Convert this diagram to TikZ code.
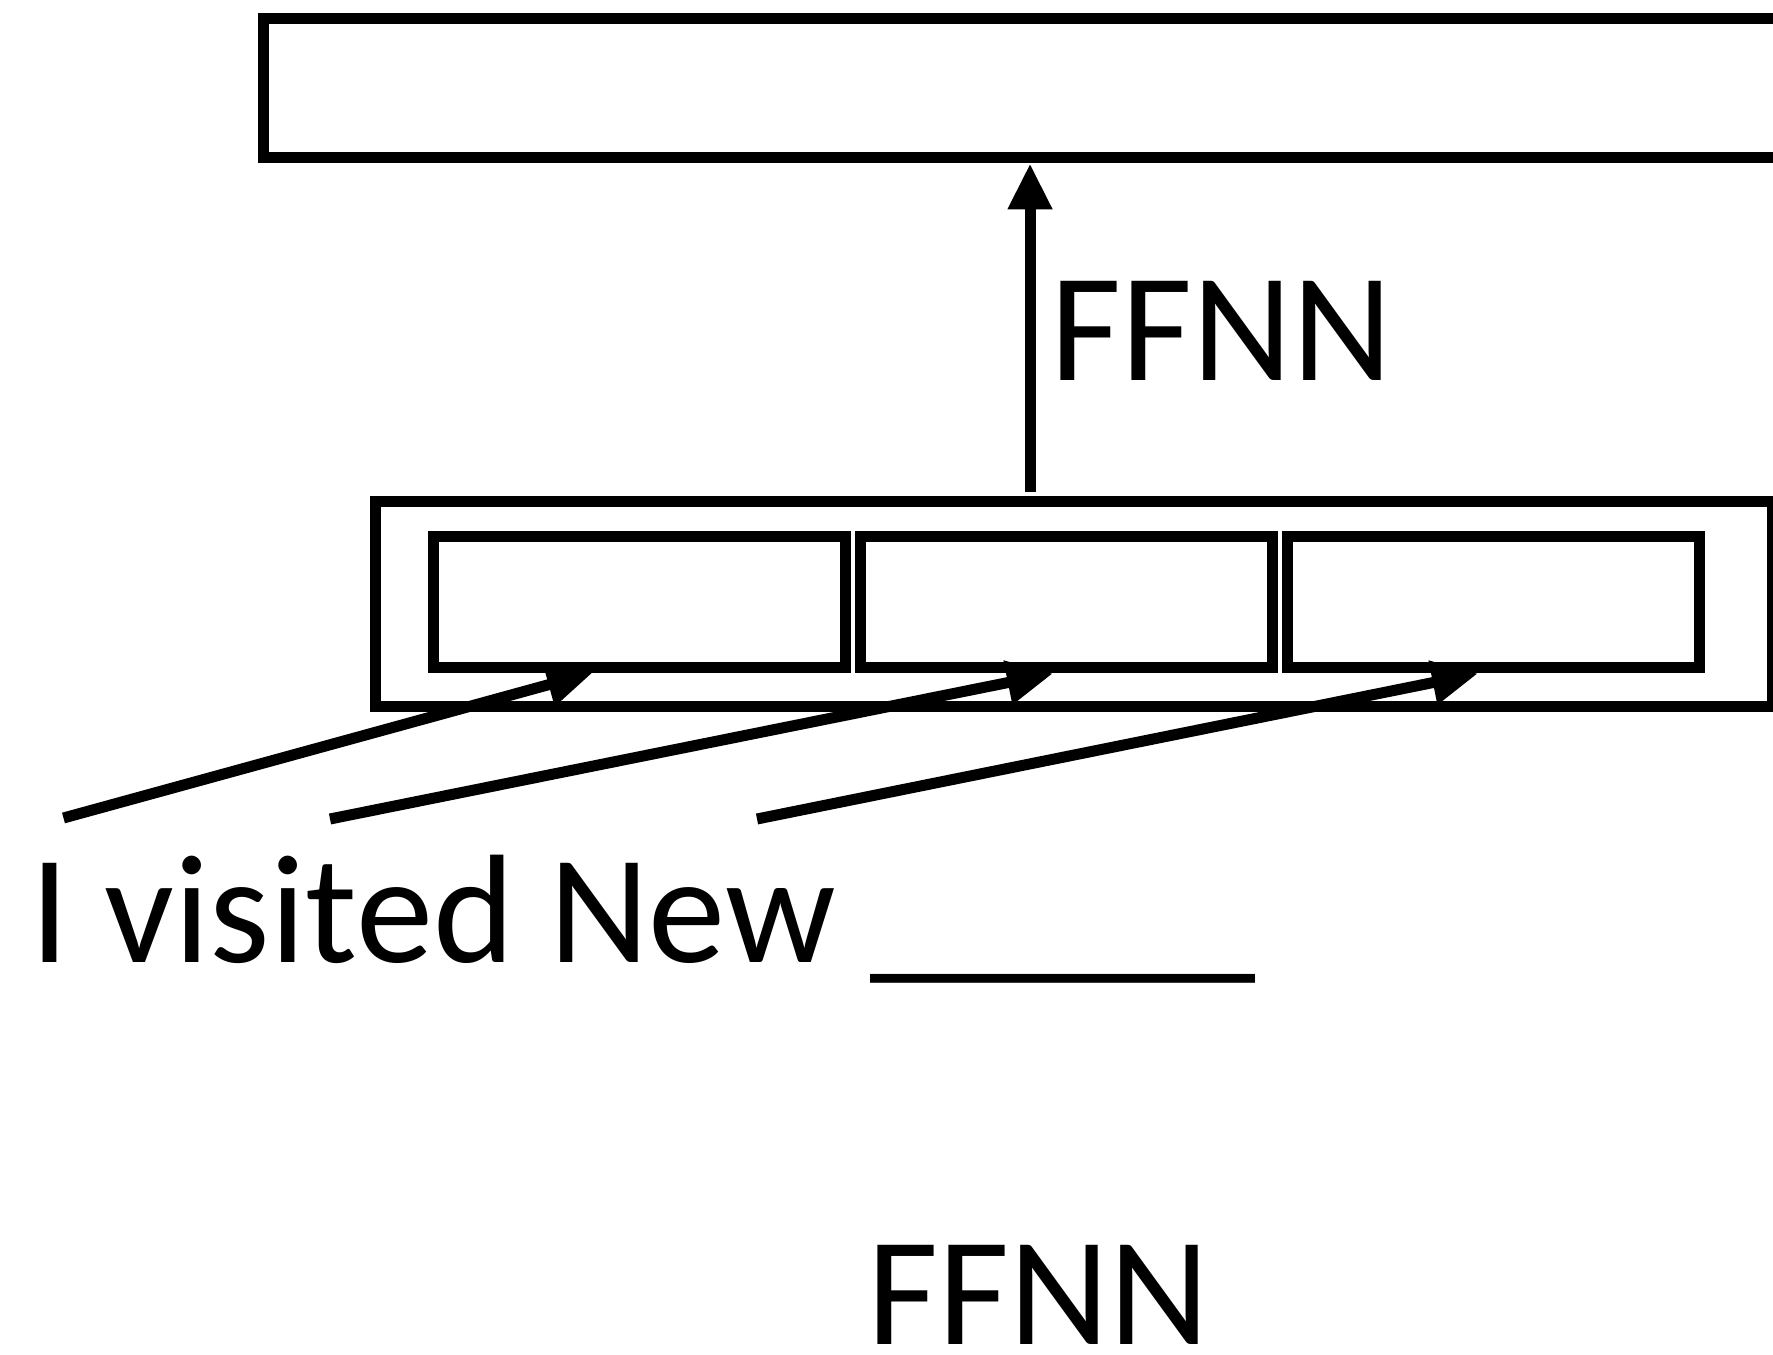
\documentclass[tikz,border=0pt]{standalone}
\usepackage{fontspec}
\setmainfont{Carlito}
\usetikzlibrary{arrows.meta,positioning}
\tikzset{box/.style={ % Plain outlined box, no text inside
            draw,
            line width=1.1mm,
            inner sep=0pt},
        word/.style={ % The three small boxes in the middle
            box,
            minimum width=4.12cm,
            minimum height=1.315cm},
        link/.style={ % Arrows with a solid triangle head
            draw,
            line width=1.1mm,
            -{Triangle[length=4.6mm,width=4.2mm]}},
        lbl/.style={ % Big text labels
            font=\fontsize{44}{53}\selectfont,
            inner sep=0pt,
            anchor=base}
        }

\begin{document}
\begin{tikzpicture}
    \useasboundingbox (0,0) rectangle (17.73,-13.55);

    \node[box, minimum width=15.145cm, minimum height=1.395cm] (out) at (10.2075,-0.8825) {};
    \node[box, minimum width=13.965cm, minimum height=2.055cm] (ctx) at (10.7375,-6.0425) {};
    \node[word] (w1) at (6.39,-6.0225) {};
    \node[word] (w2) [right=0.04cm of w1] {};
    \node[word] (w3) [right=0.04cm of w2] {};

    \node[lbl] (ffnnup) at (12.215,-3.81) {FFNN};
    \node[lbl, anchor=base west] (sent) at (0.30,-9.625) {I visited New \_\_\_\_\_};
    \node[lbl] (ffnndown) at (10.385,-13.44) {FFNN};

    \coordinate (up) at (10.30,0);
    \coordinate (s1) at (0.635,-8.18);
    \coordinate (s2) at (3.30,-8.19);
    \coordinate (s3) at (7.57,-8.19);

    \draw[link, shorten <=0.04cm] (ctx.north -| up) -- (out.south -| up);
    \draw[link] (s1) -- ([xshift=-4.6mm,yshift=0.1mm]w1.south);
    \draw[link] (s2) -- ([xshift=-1.3mm]w2.south);
    \draw[link] (s3) -- ([xshift=-1.5mm]w3.south);
\end{tikzpicture}
\end{document}
